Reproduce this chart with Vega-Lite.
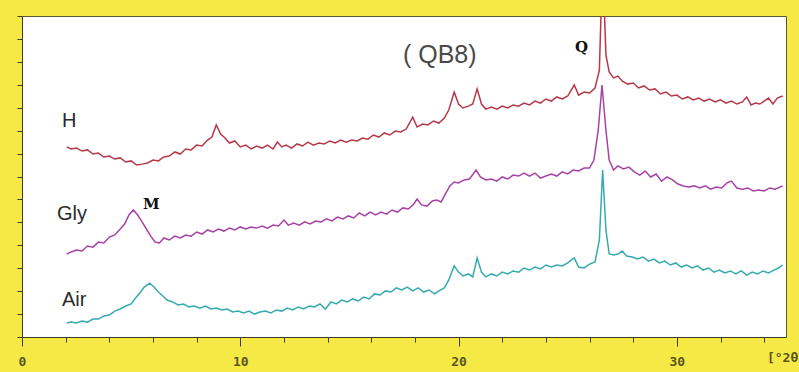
{
  "$schema": "https://vega.github.io/schema/vega-lite/v6.json",
  "width": 764,
  "height": 321,
  "autosize": {"type": "none"},
  "padding": {"left": 22, "top": 16, "right": 13, "bottom": 35},
  "background": "#f5e946",
  "config": {
    "view": {"fill": "#ffffff", "stroke": "#5a5a30", "strokeWidth": 1},
    "axis": {"domainColor": "#3c3c28", "tickColor": "#3c3c28", "grid": false}
  },
  "datasets": {
    "traces": [
      {"sample":"H","angle":2.05,"intensity":8.29},{"sample":"H","angle":2.25,"intensity":8.20},{"sample":"H","angle":2.5,"intensity":8.24},{"sample":"H","angle":2.75,"intensity":8.11},{"sample":"H","angle":3.0,"intensity":8.16},{"sample":"H","angle":3.25,"intensity":7.98},{"sample":"H","angle":3.5,"intensity":8.02},{"sample":"H","angle":3.75,"intensity":7.85},{"sample":"H","angle":4.0,"intensity":7.89},{"sample":"H","angle":4.25,"intensity":7.76},{"sample":"H","angle":4.5,"intensity":7.81},{"sample":"H","angle":4.75,"intensity":7.63},{"sample":"H","angle":5.0,"intensity":7.68},{"sample":"H","angle":5.25,"intensity":7.50},{"sample":"H","angle":5.5,"intensity":7.54},{"sample":"H","angle":5.75,"intensity":7.59},{"sample":"H","angle":6.0,"intensity":7.72},{"sample":"H","angle":6.25,"intensity":7.68},{"sample":"H","angle":6.5,"intensity":7.85},{"sample":"H","angle":6.75,"intensity":7.89},{"sample":"H","angle":7.0,"intensity":8.07},{"sample":"H","angle":7.25,"intensity":7.98},{"sample":"H","angle":7.5,"intensity":8.20},{"sample":"H","angle":7.75,"intensity":8.16},{"sample":"H","angle":8.0,"intensity":8.37},{"sample":"H","angle":8.25,"intensity":8.33},{"sample":"H","angle":8.5,"intensity":8.59},{"sample":"H","angle":8.7,"intensity":8.72},{"sample":"H","angle":8.9,"intensity":9.25},{"sample":"H","angle":9.1,"intensity":8.85},{"sample":"H","angle":9.3,"intensity":8.68},{"sample":"H","angle":9.5,"intensity":8.46},{"sample":"H","angle":9.75,"intensity":8.55},{"sample":"H","angle":10.0,"intensity":8.29},{"sample":"H","angle":10.25,"intensity":8.37},{"sample":"H","angle":10.5,"intensity":8.20},{"sample":"H","angle":10.75,"intensity":8.33},{"sample":"H","angle":11.0,"intensity":8.24},{"sample":"H","angle":11.25,"intensity":8.37},{"sample":"H","angle":11.5,"intensity":8.20},{"sample":"H","angle":11.7,"intensity":8.50},{"sample":"H","angle":11.9,"intensity":8.29},{"sample":"H","angle":12.1,"intensity":8.37},{"sample":"H","angle":12.35,"intensity":8.24},{"sample":"H","angle":12.6,"intensity":8.42},{"sample":"H","angle":12.85,"intensity":8.33},{"sample":"H","angle":13.1,"intensity":8.50},{"sample":"H","angle":13.35,"intensity":8.37},{"sample":"H","angle":13.6,"intensity":8.46},{"sample":"H","angle":13.85,"intensity":8.42},{"sample":"H","angle":14.1,"intensity":8.55},{"sample":"H","angle":14.35,"intensity":8.46},{"sample":"H","angle":14.6,"intensity":8.59},{"sample":"H","angle":14.85,"intensity":8.50},{"sample":"H","angle":15.1,"intensity":8.59},{"sample":"H","angle":15.35,"intensity":8.55},{"sample":"H","angle":15.6,"intensity":8.68},{"sample":"H","angle":15.85,"intensity":8.63},{"sample":"H","angle":16.1,"intensity":8.81},{"sample":"H","angle":16.35,"intensity":8.72},{"sample":"H","angle":16.6,"intensity":8.90},{"sample":"H","angle":16.85,"intensity":8.81},{"sample":"H","angle":17.1,"intensity":8.98},{"sample":"H","angle":17.35,"intensity":8.94},{"sample":"H","angle":17.6,"intensity":9.07},{"sample":"H","angle":17.9,"intensity":9.59},{"sample":"H","angle":18.1,"intensity":9.16},{"sample":"H","angle":18.35,"intensity":9.29},{"sample":"H","angle":18.6,"intensity":9.25},{"sample":"H","angle":18.85,"intensity":9.42},{"sample":"H","angle":19.1,"intensity":9.33},{"sample":"H","angle":19.35,"intensity":9.55},{"sample":"H","angle":19.55,"intensity":9.90},{"sample":"H","angle":19.8,"intensity":10.68},{"sample":"H","angle":20.0,"intensity":10.16},{"sample":"H","angle":20.2,"intensity":9.99},{"sample":"H","angle":20.45,"intensity":10.07},{"sample":"H","angle":20.65,"intensity":10.16},{"sample":"H","angle":20.85,"intensity":10.82},{"sample":"H","angle":21.05,"intensity":10.16},{"sample":"H","angle":21.25,"intensity":9.94},{"sample":"H","angle":21.5,"intensity":10.03},{"sample":"H","angle":21.75,"intensity":9.94},{"sample":"H","angle":22.0,"intensity":10.07},{"sample":"H","angle":22.25,"intensity":9.99},{"sample":"H","angle":22.5,"intensity":10.12},{"sample":"H","angle":22.75,"intensity":10.07},{"sample":"H","angle":23.0,"intensity":10.20},{"sample":"H","angle":23.25,"intensity":10.12},{"sample":"H","angle":23.5,"intensity":10.29},{"sample":"H","angle":23.75,"intensity":10.20},{"sample":"H","angle":24.0,"intensity":10.38},{"sample":"H","angle":24.25,"intensity":10.29},{"sample":"H","angle":24.5,"intensity":10.47},{"sample":"H","angle":24.75,"intensity":10.38},{"sample":"H","angle":25.0,"intensity":10.51},{"sample":"H","angle":25.3,"intensity":10.99},{"sample":"H","angle":25.5,"intensity":10.55},{"sample":"H","angle":25.75,"intensity":10.68},{"sample":"H","angle":26.0,"intensity":10.64},{"sample":"H","angle":26.25,"intensity":10.86},{"sample":"H","angle":26.45,"intensity":11.64},{"sample":"H","angle":26.6,"intensity":16.5},{"sample":"H","angle":26.75,"intensity":12.30},{"sample":"H","angle":26.9,"intensity":11.56},{"sample":"H","angle":27.1,"intensity":11.30},{"sample":"H","angle":27.3,"intensity":11.38},{"sample":"H","angle":27.5,"intensity":11.16},{"sample":"H","angle":27.75,"intensity":11.03},{"sample":"H","angle":28.0,"intensity":11.08},{"sample":"H","angle":28.25,"intensity":10.86},{"sample":"H","angle":28.5,"intensity":10.95},{"sample":"H","angle":28.75,"intensity":10.77},{"sample":"H","angle":29.0,"intensity":10.82},{"sample":"H","angle":29.25,"intensity":10.60},{"sample":"H","angle":29.5,"intensity":10.68},{"sample":"H","angle":29.75,"intensity":10.51},{"sample":"H","angle":30.0,"intensity":10.55},{"sample":"H","angle":30.25,"intensity":10.38},{"sample":"H","angle":30.5,"intensity":10.47},{"sample":"H","angle":30.75,"intensity":10.34},{"sample":"H","angle":31.0,"intensity":10.42},{"sample":"H","angle":31.25,"intensity":10.29},{"sample":"H","angle":31.5,"intensity":10.38},{"sample":"H","angle":31.75,"intensity":10.25},{"sample":"H","angle":32.0,"intensity":10.34},{"sample":"H","angle":32.25,"intensity":10.20},{"sample":"H","angle":32.5,"intensity":10.29},{"sample":"H","angle":32.75,"intensity":10.16},{"sample":"H","angle":33.0,"intensity":10.25},{"sample":"H","angle":33.2,"intensity":10.47},{"sample":"H","angle":33.4,"intensity":10.12},{"sample":"H","angle":33.6,"intensity":10.20},{"sample":"H","angle":33.8,"intensity":10.16},{"sample":"H","angle":34.0,"intensity":10.29},{"sample":"H","angle":34.2,"intensity":10.42},{"sample":"H","angle":34.4,"intensity":10.16},{"sample":"H","angle":34.6,"intensity":10.42},{"sample":"H","angle":34.85,"intensity":10.51},

      {"sample":"Gly","angle":2.05,"intensity":3.62},{"sample":"Gly","angle":2.25,"intensity":3.71},{"sample":"Gly","angle":2.5,"intensity":3.79},{"sample":"Gly","angle":2.75,"intensity":3.75},{"sample":"Gly","angle":3.0,"intensity":3.97},{"sample":"Gly","angle":3.25,"intensity":3.92},{"sample":"Gly","angle":3.5,"intensity":4.14},{"sample":"Gly","angle":3.75,"intensity":4.10},{"sample":"Gly","angle":4.0,"intensity":4.36},{"sample":"Gly","angle":4.25,"intensity":4.45},{"sample":"Gly","angle":4.5,"intensity":4.71},{"sample":"Gly","angle":4.7,"intensity":4.93},{"sample":"Gly","angle":4.9,"intensity":5.32},{"sample":"Gly","angle":5.1,"intensity":5.54},{"sample":"Gly","angle":5.3,"intensity":5.32},{"sample":"Gly","angle":5.5,"intensity":5.02},{"sample":"Gly","angle":5.7,"intensity":4.71},{"sample":"Gly","angle":5.9,"intensity":4.40},{"sample":"Gly","angle":6.1,"intensity":4.14},{"sample":"Gly","angle":6.3,"intensity":4.10},{"sample":"Gly","angle":6.5,"intensity":4.32},{"sample":"Gly","angle":6.75,"intensity":4.23},{"sample":"Gly","angle":7.0,"intensity":4.40},{"sample":"Gly","angle":7.25,"intensity":4.32},{"sample":"Gly","angle":7.5,"intensity":4.45},{"sample":"Gly","angle":7.75,"intensity":4.40},{"sample":"Gly","angle":8.0,"intensity":4.58},{"sample":"Gly","angle":8.25,"intensity":4.49},{"sample":"Gly","angle":8.5,"intensity":4.67},{"sample":"Gly","angle":8.75,"intensity":4.58},{"sample":"Gly","angle":9.0,"intensity":4.71},{"sample":"Gly","angle":9.25,"intensity":4.62},{"sample":"Gly","angle":9.5,"intensity":4.75},{"sample":"Gly","angle":9.75,"intensity":4.67},{"sample":"Gly","angle":10.0,"intensity":4.80},{"sample":"Gly","angle":10.25,"intensity":4.71},{"sample":"Gly","angle":10.5,"intensity":4.80},{"sample":"Gly","angle":10.75,"intensity":4.75},{"sample":"Gly","angle":11.0,"intensity":4.84},{"sample":"Gly","angle":11.25,"intensity":4.75},{"sample":"Gly","angle":11.5,"intensity":4.88},{"sample":"Gly","angle":11.75,"intensity":4.84},{"sample":"Gly","angle":12.0,"intensity":5.10},{"sample":"Gly","angle":12.2,"intensity":4.88},{"sample":"Gly","angle":12.45,"intensity":4.97},{"sample":"Gly","angle":12.7,"intensity":4.88},{"sample":"Gly","angle":12.95,"intensity":5.02},{"sample":"Gly","angle":13.2,"intensity":4.93},{"sample":"Gly","angle":13.45,"intensity":5.06},{"sample":"Gly","angle":13.7,"intensity":5.02},{"sample":"Gly","angle":13.95,"intensity":5.15},{"sample":"Gly","angle":14.2,"intensity":5.06},{"sample":"Gly","angle":14.45,"intensity":5.23},{"sample":"Gly","angle":14.7,"intensity":5.15},{"sample":"Gly","angle":14.95,"intensity":5.28},{"sample":"Gly","angle":15.2,"intensity":5.19},{"sample":"Gly","angle":15.45,"intensity":5.41},{"sample":"Gly","angle":15.7,"intensity":5.28},{"sample":"Gly","angle":15.95,"intensity":5.45},{"sample":"Gly","angle":16.2,"intensity":5.32},{"sample":"Gly","angle":16.45,"intensity":5.45},{"sample":"Gly","angle":16.7,"intensity":5.36},{"sample":"Gly","angle":16.95,"intensity":5.54},{"sample":"Gly","angle":17.2,"intensity":5.45},{"sample":"Gly","angle":17.45,"intensity":5.63},{"sample":"Gly","angle":17.7,"intensity":5.58},{"sample":"Gly","angle":17.95,"intensity":5.80},{"sample":"Gly","angle":18.1,"intensity":6.02},{"sample":"Gly","angle":18.3,"intensity":5.76},{"sample":"Gly","angle":18.55,"intensity":5.71},{"sample":"Gly","angle":18.8,"intensity":5.93},{"sample":"Gly","angle":19.0,"intensity":5.97},{"sample":"Gly","angle":19.2,"intensity":5.89},{"sample":"Gly","angle":19.4,"intensity":6.24},{"sample":"Gly","angle":19.6,"intensity":6.59},{"sample":"Gly","angle":19.8,"intensity":6.76},{"sample":"Gly","angle":20.0,"intensity":6.72},{"sample":"Gly","angle":20.25,"intensity":6.85},{"sample":"Gly","angle":20.5,"intensity":6.89},{"sample":"Gly","angle":20.8,"intensity":7.28},{"sample":"Gly","angle":21.0,"intensity":6.98},{"sample":"Gly","angle":21.25,"intensity":6.85},{"sample":"Gly","angle":21.5,"intensity":6.89},{"sample":"Gly","angle":21.75,"intensity":6.80},{"sample":"Gly","angle":22.0,"intensity":6.98},{"sample":"Gly","angle":22.25,"intensity":6.89},{"sample":"Gly","angle":22.5,"intensity":7.06},{"sample":"Gly","angle":22.75,"intensity":7.02},{"sample":"Gly","angle":23.0,"intensity":7.15},{"sample":"Gly","angle":23.25,"intensity":7.02},{"sample":"Gly","angle":23.5,"intensity":7.15},{"sample":"Gly","angle":23.75,"intensity":6.93},{"sample":"Gly","angle":24.0,"intensity":7.02},{"sample":"Gly","angle":24.25,"intensity":7.11},{"sample":"Gly","angle":24.5,"intensity":7.02},{"sample":"Gly","angle":24.75,"intensity":7.20},{"sample":"Gly","angle":25.0,"intensity":7.11},{"sample":"Gly","angle":25.25,"intensity":7.28},{"sample":"Gly","angle":25.5,"intensity":7.24},{"sample":"Gly","angle":25.75,"intensity":7.37},{"sample":"Gly","angle":26.0,"intensity":7.37},{"sample":"Gly","angle":26.2,"intensity":7.72},{"sample":"Gly","angle":26.4,"intensity":9.03},{"sample":"Gly","angle":26.57,"intensity":10.99},{"sample":"Gly","angle":26.75,"intensity":9.03},{"sample":"Gly","angle":26.9,"intensity":7.72},{"sample":"Gly","angle":27.1,"intensity":7.28},{"sample":"Gly","angle":27.3,"intensity":7.46},{"sample":"Gly","angle":27.55,"intensity":7.33},{"sample":"Gly","angle":27.8,"intensity":7.41},{"sample":"Gly","angle":28.05,"intensity":7.20},{"sample":"Gly","angle":28.3,"intensity":7.06},{"sample":"Gly","angle":28.55,"intensity":7.24},{"sample":"Gly","angle":28.8,"intensity":6.98},{"sample":"Gly","angle":29.05,"intensity":7.11},{"sample":"Gly","angle":29.3,"intensity":6.80},{"sample":"Gly","angle":29.55,"intensity":6.98},{"sample":"Gly","angle":29.8,"intensity":6.85},{"sample":"Gly","angle":30.05,"intensity":6.67},{"sample":"Gly","angle":30.3,"intensity":6.59},{"sample":"Gly","angle":30.55,"intensity":6.54},{"sample":"Gly","angle":30.8,"intensity":6.59},{"sample":"Gly","angle":31.05,"intensity":6.50},{"sample":"Gly","angle":31.3,"intensity":6.59},{"sample":"Gly","angle":31.55,"intensity":6.45},{"sample":"Gly","angle":31.8,"intensity":6.54},{"sample":"Gly","angle":32.05,"intensity":6.50},{"sample":"Gly","angle":32.3,"intensity":6.72},{"sample":"Gly","angle":32.5,"intensity":6.80},{"sample":"Gly","angle":32.75,"intensity":6.50},{"sample":"Gly","angle":33.0,"intensity":6.45},{"sample":"Gly","angle":33.25,"intensity":6.50},{"sample":"Gly","angle":33.5,"intensity":6.37},{"sample":"Gly","angle":33.75,"intensity":6.41},{"sample":"Gly","angle":34.0,"intensity":6.37},{"sample":"Gly","angle":34.25,"intensity":6.50},{"sample":"Gly","angle":34.5,"intensity":6.45},{"sample":"Gly","angle":34.85,"intensity":6.59},

      {"sample":"Air","angle":2.05,"intensity":0.61},{"sample":"Air","angle":2.25,"intensity":0.65},{"sample":"Air","angle":2.5,"intensity":0.61},{"sample":"Air","angle":2.75,"intensity":0.70},{"sample":"Air","angle":3.0,"intensity":0.65},{"sample":"Air","angle":3.25,"intensity":0.78},{"sample":"Air","angle":3.5,"intensity":0.78},{"sample":"Air","angle":3.75,"intensity":0.92},{"sample":"Air","angle":4.0,"intensity":0.96},{"sample":"Air","angle":4.25,"intensity":1.13},{"sample":"Air","angle":4.5,"intensity":1.22},{"sample":"Air","angle":4.75,"intensity":1.35},{"sample":"Air","angle":5.0,"intensity":1.44},{"sample":"Air","angle":5.2,"intensity":1.70},{"sample":"Air","angle":5.4,"intensity":1.92},{"sample":"Air","angle":5.6,"intensity":2.18},{"sample":"Air","angle":5.85,"intensity":2.35},{"sample":"Air","angle":6.05,"intensity":2.18},{"sample":"Air","angle":6.25,"intensity":1.96},{"sample":"Air","angle":6.45,"intensity":1.79},{"sample":"Air","angle":6.65,"intensity":1.61},{"sample":"Air","angle":6.9,"intensity":1.53},{"sample":"Air","angle":7.15,"intensity":1.40},{"sample":"Air","angle":7.4,"intensity":1.44},{"sample":"Air","angle":7.65,"intensity":1.31},{"sample":"Air","angle":7.9,"intensity":1.35},{"sample":"Air","angle":8.15,"intensity":1.26},{"sample":"Air","angle":8.4,"intensity":1.35},{"sample":"Air","angle":8.65,"intensity":1.22},{"sample":"Air","angle":8.9,"intensity":1.26},{"sample":"Air","angle":9.15,"intensity":1.18},{"sample":"Air","angle":9.4,"intensity":1.22},{"sample":"Air","angle":9.65,"intensity":1.09},{"sample":"Air","angle":9.9,"intensity":1.13},{"sample":"Air","angle":10.15,"intensity":1.05},{"sample":"Air","angle":10.4,"intensity":1.13},{"sample":"Air","angle":10.65,"intensity":1.00},{"sample":"Air","angle":10.9,"intensity":1.09},{"sample":"Air","angle":11.15,"intensity":1.13},{"sample":"Air","angle":11.4,"intensity":1.05},{"sample":"Air","angle":11.65,"intensity":1.18},{"sample":"Air","angle":11.9,"intensity":1.13},{"sample":"Air","angle":12.15,"intensity":1.26},{"sample":"Air","angle":12.4,"intensity":1.18},{"sample":"Air","angle":12.65,"intensity":1.31},{"sample":"Air","angle":12.9,"intensity":1.22},{"sample":"Air","angle":13.15,"intensity":1.35},{"sample":"Air","angle":13.4,"intensity":1.31},{"sample":"Air","angle":13.65,"intensity":1.44},{"sample":"Air","angle":13.9,"intensity":1.22},{"sample":"Air","angle":14.15,"intensity":1.53},{"sample":"Air","angle":14.4,"intensity":1.44},{"sample":"Air","angle":14.65,"intensity":1.61},{"sample":"Air","angle":14.9,"intensity":1.53},{"sample":"Air","angle":15.15,"intensity":1.66},{"sample":"Air","angle":15.4,"intensity":1.57},{"sample":"Air","angle":15.65,"intensity":1.74},{"sample":"Air","angle":15.9,"intensity":1.66},{"sample":"Air","angle":16.15,"intensity":1.88},{"sample":"Air","angle":16.4,"intensity":1.83},{"sample":"Air","angle":16.65,"intensity":2.01},{"sample":"Air","angle":16.9,"intensity":1.96},{"sample":"Air","angle":17.15,"intensity":2.14},{"sample":"Air","angle":17.4,"intensity":2.05},{"sample":"Air","angle":17.65,"intensity":2.18},{"sample":"Air","angle":17.9,"intensity":2.01},{"sample":"Air","angle":18.15,"intensity":2.14},{"sample":"Air","angle":18.4,"intensity":1.96},{"sample":"Air","angle":18.65,"intensity":2.05},{"sample":"Air","angle":18.9,"intensity":1.88},{"sample":"Air","angle":19.1,"intensity":2.01},{"sample":"Air","angle":19.35,"intensity":2.14},{"sample":"Air","angle":19.55,"intensity":2.49},{"sample":"Air","angle":19.8,"intensity":3.10},{"sample":"Air","angle":20.0,"intensity":2.83},{"sample":"Air","angle":20.2,"intensity":2.66},{"sample":"Air","angle":20.45,"intensity":2.75},{"sample":"Air","angle":20.65,"intensity":2.62},{"sample":"Air","angle":20.85,"intensity":3.45},{"sample":"Air","angle":21.05,"intensity":2.83},{"sample":"Air","angle":21.25,"intensity":2.62},{"sample":"Air","angle":21.5,"intensity":2.75},{"sample":"Air","angle":21.75,"intensity":2.66},{"sample":"Air","angle":22.0,"intensity":2.83},{"sample":"Air","angle":22.25,"intensity":2.75},{"sample":"Air","angle":22.5,"intensity":2.88},{"sample":"Air","angle":22.75,"intensity":2.83},{"sample":"Air","angle":23.0,"intensity":3.01},{"sample":"Air","angle":23.25,"intensity":2.92},{"sample":"Air","angle":23.5,"intensity":3.05},{"sample":"Air","angle":23.75,"intensity":2.97},{"sample":"Air","angle":24.0,"intensity":3.14},{"sample":"Air","angle":24.25,"intensity":3.05},{"sample":"Air","angle":24.5,"intensity":3.14},{"sample":"Air","angle":24.75,"intensity":3.10},{"sample":"Air","angle":25.0,"intensity":3.23},{"sample":"Air","angle":25.3,"intensity":3.45},{"sample":"Air","angle":25.5,"intensity":3.05},{"sample":"Air","angle":25.75,"intensity":3.01},{"sample":"Air","angle":26.0,"intensity":3.18},{"sample":"Air","angle":26.25,"intensity":3.27},{"sample":"Air","angle":26.45,"intensity":4.23},{"sample":"Air","angle":26.6,"intensity":7.28},{"sample":"Air","angle":26.75,"intensity":4.67},{"sample":"Air","angle":26.9,"intensity":3.62},{"sample":"Air","angle":27.1,"intensity":3.58},{"sample":"Air","angle":27.3,"intensity":3.62},{"sample":"Air","angle":27.5,"intensity":3.75},{"sample":"Air","angle":27.7,"intensity":3.53},{"sample":"Air","angle":27.95,"intensity":3.49},{"sample":"Air","angle":28.2,"intensity":3.40},{"sample":"Air","angle":28.45,"intensity":3.49},{"sample":"Air","angle":28.7,"intensity":3.31},{"sample":"Air","angle":28.95,"intensity":3.40},{"sample":"Air","angle":29.2,"intensity":3.23},{"sample":"Air","angle":29.45,"intensity":3.31},{"sample":"Air","angle":29.7,"intensity":3.14},{"sample":"Air","angle":29.95,"intensity":3.23},{"sample":"Air","angle":30.2,"intensity":3.05},{"sample":"Air","angle":30.45,"intensity":3.14},{"sample":"Air","angle":30.7,"intensity":3.01},{"sample":"Air","angle":30.95,"intensity":3.10},{"sample":"Air","angle":31.2,"intensity":2.92},{"sample":"Air","angle":31.45,"intensity":3.01},{"sample":"Air","angle":31.7,"intensity":2.83},{"sample":"Air","angle":31.95,"intensity":2.92},{"sample":"Air","angle":32.2,"intensity":2.79},{"sample":"Air","angle":32.45,"intensity":2.88},{"sample":"Air","angle":32.7,"intensity":2.75},{"sample":"Air","angle":32.95,"intensity":2.88},{"sample":"Air","angle":33.2,"intensity":2.70},{"sample":"Air","angle":33.45,"intensity":2.83},{"sample":"Air","angle":33.7,"intensity":2.75},{"sample":"Air","angle":33.95,"intensity":2.88},{"sample":"Air","angle":34.2,"intensity":2.79},{"sample":"Air","angle":34.45,"intensity":2.92},{"sample":"Air","angle":34.65,"intensity":3.01},{"sample":"Air","angle":34.85,"intensity":3.14}
    ],
    "samples": [
      {"label":"H","angle":1.83,"intensity":9.16},
      {"label":"Gly","angle":1.6,"intensity":5.1},
      {"label":"Air","angle":1.83,"intensity":1.35}
    ],
    "phases": [
      {"label":"M","angle":5.54,"intensity":5.58},
      {"label":"Q","angle":25.33,"intensity":12.43}
    ],
    "title": [
      {"label":"( QB8)","angle":17.45,"intensity":11.95}
    ]
  },
  "layer": [
    {
      "data": {"name": "traces"},
      "mark": {"type": "line", "strokeWidth": 1.5, "clip": true, "interpolate": "linear"},
      "encoding": {
        "x": {
          "field": "angle", "type": "quantitative",
          "scale": {"domain": [0, 35], "nice": false, "zero": false},
          "axis": {
            "values": [0,1,2,3,4,5,6,7,8,9,10,11,12,13,14,15,16,17,18,19,20,21,22,23,24,25,26,27,28,29,30,31,32,33,34,35],
            "tickSize": {"condition": {"test": "datum.value % 10 === 0 || datum.value === 35", "value": 9}, "value": 5},
            "labelExpr": "datum.value % 10 === 0 ? datum.label : ''",
            "labelOverlap": false,
            "labelFlush": false,
            "labelBound": false,
            "labelFont": "DejaVu Sans Mono",
            "labelFontWeight": "bold",
            "labelFontSize": 13,
            "labelColor": "#5a5520",
            "labelPadding": 9,
            "title": "[°2θ]",
            "titleAnchor": "end",
            "titleAlign": "center",
            "titleBaseline": "top",
            "titleY": 14,
            "titlePadding": 0,
            "titleFont": "DejaVu Sans Mono",
            "titleFontWeight": "bold",
            "titleFontSize": 13,
            "titleColor": "#5a5520"
          }
        },
        "y": {
          "field": "intensity", "type": "quantitative",
          "scale": {"domain": [0, 14], "nice": false, "zero": false},
          "axis": {
            "values": [0,1,2,3,4,5,6,7,8,9,10,11,12,13,14],
            "tickCount": 15,
            "tickSize": 5,
            "labelExpr": "''",
            "labelOverlap": false,
            "labelPadding": 0,
            "title": null
          }
        },
        "color": {
          "field": "sample", "type": "nominal",
          "scale": {"domain": ["H", "Gly", "Air"], "range": ["#b83848", "#a842a6", "#35abb0"]},
          "legend": null
        }
      }
    },
    {
      "data": {"name": "samples"},
      "mark": {"type": "text", "align": "left", "baseline": "alphabetic", "font": "Liberation Sans", "fontSize": 20, "color": "#2a2a2a"},
      "encoding": {
        "x": {"field": "angle", "type": "quantitative"},
        "y": {"field": "intensity", "type": "quantitative"},
        "text": {"field": "label"}
      }
    },
    {
      "data": {"name": "phases"},
      "mark": {"type": "text", "align": "left", "baseline": "alphabetic", "font": "DejaVu Serif", "fontWeight": "bold", "fontSize": 15, "color": "#111111"},
      "encoding": {
        "x": {"field": "angle", "type": "quantitative"},
        "y": {"field": "intensity", "type": "quantitative"},
        "text": {"field": "label"}
      }
    },
    {
      "data": {"name": "title"},
      "mark": {"type": "text", "align": "left", "baseline": "alphabetic", "font": "Liberation Sans", "fontSize": 25, "color": "#4a4a4a"},
      "encoding": {
        "x": {"field": "angle", "type": "quantitative"},
        "y": {"field": "intensity", "type": "quantitative"},
        "text": {"field": "label"}
      }
    }
  ]
}
